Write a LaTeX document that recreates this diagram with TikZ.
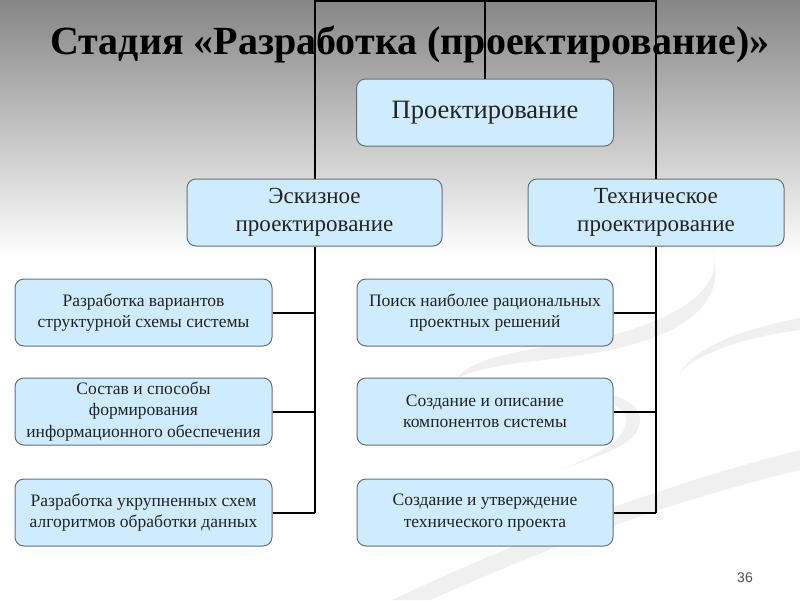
\documentclass[tikz,border=0pt]{standalone}
\usepackage{fontspec}
\setmainfont{Liberation Serif}
\newfontfamily\numfont{Liberation Sans}
\begin{document}
\begin{tikzpicture}[x=1pt,y=-1pt,
  box/.style={draw=boxline, fill=boxfill, rounded corners=9pt, line width=1pt,
    align=center, inner sep=2pt, text=txt, minimum height=67pt},
  toplevel/.style={box, minimum width=257pt, font=\fontsize{26.5}{31}\selectfont},
  midlevel/.style={box, minimum width=256pt, font=\fontsize{23}{27.5}\selectfont},
  leaf/.style={box, minimum width=257pt, font=\fontsize{17.5}{21.5}\selectfont},
  link/.style={draw=black, line width=2pt},
  swirl/.style={fill=black!6, draw=none}]
\definecolor{boxfill}{RGB}{206,236,253}
\definecolor{boxline}{RGB}{100,112,122}
\definecolor{txt}{RGB}{35,35,35}
\useasboundingbox (0,0) rectangle (800,600);
% background
\fill[white] (0,0) rectangle (800,600);
\shade[top color={rgb,255:red,134;green,134;blue,134}, bottom color=white] (0,0) rectangle (800,258);
% faint swirls
\fill[swirl] (392,600) .. controls (520,540) and (650,488) .. (800,450) -- (800,470) .. controls (650,506) and (530,556) .. (430,600) -- cycle;
\fill[swirl] (712,250) .. controls (730,300) and (640,335) .. (560,345) .. controls (500,352) and (465,365) .. (458,378)
  .. controls (490,362) and (560,360) .. (600,352) .. controls (690,335) and (728,300) .. (712,250) -- cycle;
\fill[swirl] (800,318) .. controls (740,330) and (700,345) .. (680,372) .. controls (700,352) and (750,336) .. (800,330) -- cycle;
\fill[swirl] (470,395) .. controls (540,380) and (640,385) .. (640,420) .. controls (640,445) and (600,455) .. (560,470)
  .. controls (610,450) and (628,435) .. (626,418) .. controls (620,392) and (540,388) .. (470,395) -- cycle;
% title
\node[font=\fontsize{40}{45}\selectfont\bfseries, text=black, anchor=base] (title) at (410,54) {Стадия «Разработка (проектирование)»};
% boxes
\node[toplevel] (top) at (485,112.5) {Проектирование};
\node[midlevel, minimum width=255pt] (esk) at (314.5,212.5) {Эскизное\\проектирование};
\node[midlevel] (tech) at (656,212.5) {Техническое\\проектирование};
\node[leaf] (L1) at (143.5,312.5) {Разработка вариантов\\структурной схемы системы};
\node[leaf] (L2) at (143.5,411.5) {Состав и способы\\формирования\\информационного обеспечения};
\node[leaf] (L3) at (143.5,512.5) {Разработка укрупненных схем\\алгоритмов обработки данных};
\node[leaf, minimum width=256pt] (R1) at (485,312.5) {Поиск наиболее рациональных\\проектных решений};
\node[leaf, minimum width=256pt] (R2) at (485,411.5) {Создание и описание\\компонентов системы};
\node[leaf, minimum width=256pt] (R3) at (485,512.5) {Создание и утверждение\\технического проекта};
% top bus
\coordinate (busL) at (314.5,1);
\coordinate (busR) at (656,1);
\draw[link] (esk.north) -- (busL) -- (busR) -- (tech.north);
\draw[link] (top.north) -- (top.north |- busL);
% left branch
\draw[link] (esk.south) -- (esk.south |- L3.east);
\draw[link] (L1.east) -- (L1.east -| esk.south);
\draw[link] (L2.east) -- (L2.east -| esk.south);
\draw[link] (L3.east) -- (L3.east -| esk.south);
% right branch
\draw[link] (tech.south) -- (tech.south |- R3.east);
\draw[link] (R1.east) -- (R1.east -| tech.south);
\draw[link] (R2.east) -- (R2.east -| tech.south);
\draw[link] (R3.east) -- (R3.east -| tech.south);
% page number
\node[font=\numfont\fontsize{14}{16}\selectfont, text={rgb,255:red,80;green,80;blue,80}] (pg) at (745,578) {36};
\end{tikzpicture}
\end{document}
